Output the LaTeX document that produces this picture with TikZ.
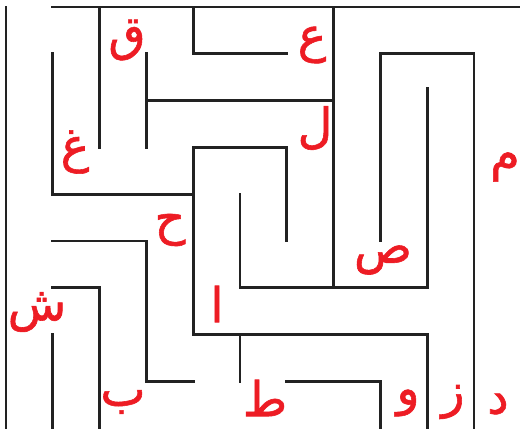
\documentclass[tikz,border=0pt]{standalone}
\usepackage{fontspec}
\TeXXeTstate=1
\newfontfamily\arabicfont[Script=Arabic, FakeBold=1.2]{DejaVu Sans}
\definecolor{wallc}{RGB}{34,34,34}
\definecolor{letc}{RGB}{237,28,36}
\tikzset{
  wall/.style={draw=wallc, line width=2.8pt, line cap=rect, line join=miter},
  letter/.style={text=letc, font=\arabicfont\fontsize{48}{56}\selectfont, inner sep=0pt, anchor=center}
}
\begin{document}
\begin{tikzpicture}[x=46.8pt, y=-46.8pt]
\useasboundingbox (-0.1282,-0.1496) rectangle (10.983,8.996);
% walls
\draw[wall] (0,0) -- (0,9);
\draw[wall] (1,0) -- (11.2,0);
\draw[wall] (2,0) -- (2,3);
\draw[wall] (4,0) -- (4,1) -- (6,1);
\draw[wall] (1,1) -- (1,4) -- (4,4);
\draw[wall] (3,1) -- (3,3);
\draw[wall] (3,2) -- (7,2);
\draw[wall] (7,0) -- (7,6);
\draw[wall] (6,5) -- (6,3) -- (4,3) -- (4,7) -- (9,7) -- (9,9);
\draw[wall] (5,4) -- (5,6) -- (9,6) -- (9,1.73);
\draw[wall] (8,5) -- (8,1) -- (10,1) -- (10,9);
\draw[wall] (1,5) -- (3,5) -- (3,8) -- (4,8);
\draw[wall] (1,6) -- (2,6) -- (2,9);
\draw[wall] (1,7) -- (1,9);
\draw[wall] (5,7) -- (5,8);
\draw[wall] (6,8) -- (8,8) -- (8,9);
% letters (pixel positions converted to grid units)
\node[letter] (qaf)   at ({(127-6)/46.8},{(40-7)/46.8})  {\beginR ق\endR};
\node[letter] (ain)   at ({(312-6)/46.8},{(45-7)/46.8})  {\beginR ع\endR};
\node[letter] (lam)   at ({(315-6)/46.8},{(128-7)/46.8}) {\beginR ل\endR};
\node[letter] (ghain) at ({(75-6)/46.8},{(152-7)/46.8})  {\beginR غ\endR};
\node[letter] (mim)   at ({(505-6)/46.8},{(167-7)/46.8}) {\beginR م\endR};
\node[letter] (ha)    at ({(170-6)/46.8},{(230-7)/46.8}) {\beginR ح\endR};
\node[letter] (sad)   at ({(383-6)/46.8},{(260-7)/46.8}) {\beginR ص\endR};
\node[letter] (shin)  at ({(37-6)/46.8},{(312-7)/46.8})  {\beginR ش\endR};
\node[letter] (alif)  at ({(217-6)/46.8},{(304-7)/46.8}) {\beginR ا\endR};
\node[letter] (ba)    at ({(123-6)/46.8},{(402-7)/46.8}) {\beginR ب\endR};
\node[letter] (ta)    at ({(265-6)/46.8},{(398-7)/46.8}) {\beginR ط\endR};
\node[letter] (waw)   at ({(408-6)/46.8},{(403-7)/46.8}) {\beginR و\endR};
\node[letter] (zay)   at ({(453-6)/46.8},{(402-7)/46.8}) {\beginR ز\endR};
\node[letter] (dal)   at ({(498-6)/46.8},{(404-7)/46.8}) {\beginR د\endR};
\end{tikzpicture}
\end{document}
